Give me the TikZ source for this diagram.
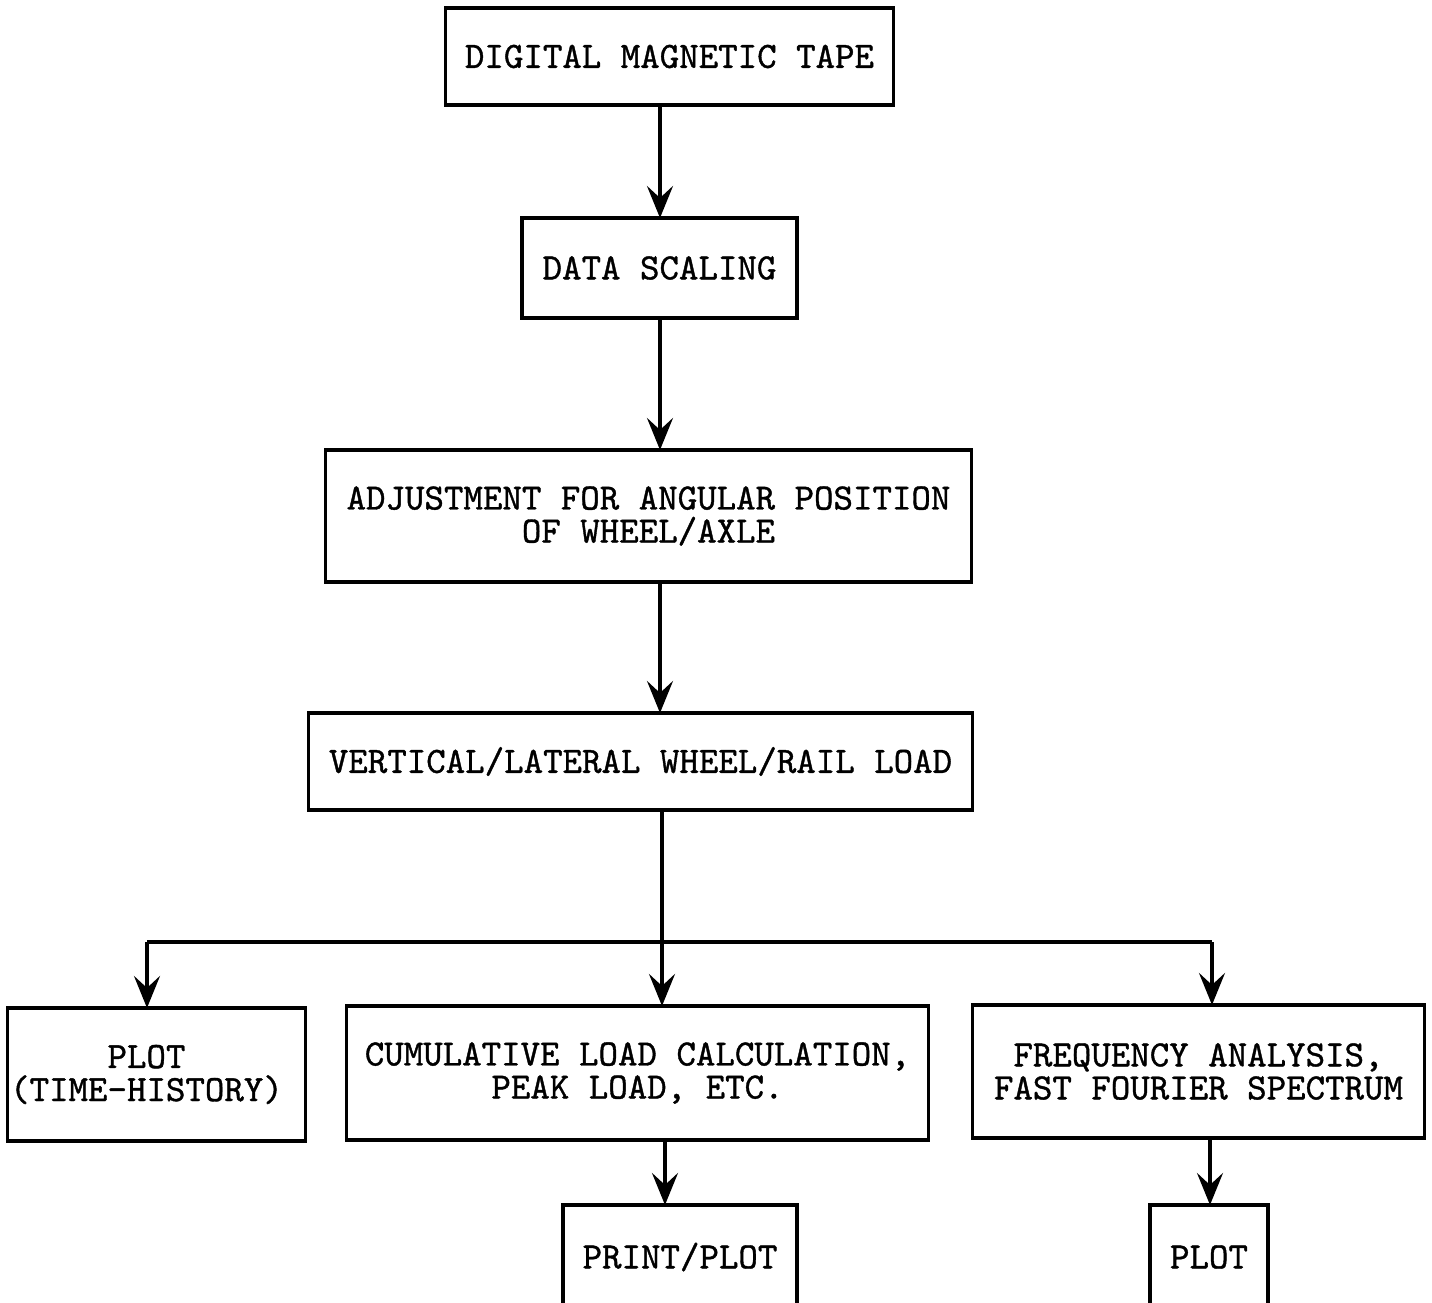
\documentclass[tikz,border=0pt]{standalone}
\usepackage{fontspec}
\setmonofont[FakeBold=1.0]{Latin Modern Mono}
\usetikzlibrary{arrows.meta}
\begin{document}
\begin{tikzpicture}[x=0.01cm,y=-0.01cm,
  every node/.style={font=\ttfamily\fontsize{10.55}{9.4}\selectfont, align=center},
  box/.style={draw, line width=0.9pt, inner sep=0pt, outer sep=0pt},
  conn/.style={line width=0.9pt, -{Stealth[length=0.32cm,width=0.26cm,inset=0.12cm]}},
  plain/.style={line width=0.9pt}]
\useasboundingbox (0,0) rectangle (1432,1303);
\clip (0,0) rectangle (1432,1303);
\node[box, minimum width=4.47cm, minimum height=0.97cm] (tape) at (669.5,56.5) {DIGITAL MAGNETIC TAPE};
\node[box, minimum width=2.75cm, minimum height=1.00cm] (scal) at (659.5,268) {DATA SCALING};
\node[box, minimum width=6.45cm, minimum height=1.32cm] (adj) at (648.5,516) {ADJUSTMENT FOR ANGULAR POSITION\\OF WHEEL/AXLE};
\node[box, minimum width=6.63cm, minimum height=0.97cm] (load) at (640.5,761.5) {VERTICAL/LATERAL WHEEL/RAIL LOAD};
\node[box, minimum width=2.97cm, minimum height=1.33cm,
  label={[xshift=-0.10cm]center:PLOT\\(TIME-HISTORY)}] (plot1) at (156.5,1074.5) {};
\node[box, minimum width=5.81cm, minimum height=1.34cm] (cum) at (637.5,1073) {CUMULATIVE LOAD CALCULATION,\\PEAK LOAD, ETC.};
\node[box, minimum width=4.51cm, minimum height=1.33cm] (freq) at (1198.5,1071.5) {FREQUENCY ANALYSIS,\\FAST FOURIER SPECTRUM};
\node[box, minimum width=2.34cm, minimum height=1.04cm] (print) at (680,1257) {PRINT/PLOT};
\node[box, minimum width=1.18cm, minimum height=1.04cm] (plot2) at (1209,1257) {PLOT};
\coordinate (split) at (662,942);
\coordinate (left) at (147,942);
\coordinate (right) at (1212,942);
\draw[conn] (tape.south -| 660,0) -- (scal.north -| 660,0);
\draw[conn] (scal.south -| 660,0) -- (adj.north -| 660,0);
\draw[conn] (adj.south -| 660,0) -- (load.north -| 660,0);
\draw[plain] (load.south -| split) -- (split);
\draw[plain] (left) -- (right);
\draw[conn] (left) -- (plot1.north -| left);
\draw[conn] (split) -- (cum.north -| split);
\draw[conn] (right) -- (freq.north -| right);
\draw[conn] (cum.south -| 665,0) -- (print.north -| 665,0);
\draw[conn] (freq.south -| 1210,0) -- (plot2.north -| 1210,0);
\end{tikzpicture}
\end{document}
